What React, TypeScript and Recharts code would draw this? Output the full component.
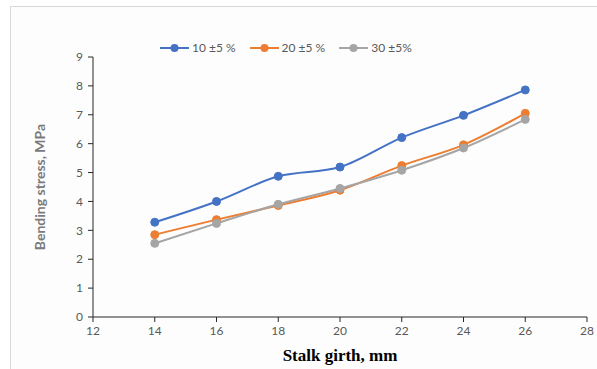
import { LineChart, Line, XAxis, YAxis } from 'recharts'

const girth = [14, 16, 18, 20, 22, 24, 26]
const stress10 = [3.28, 4.0, 4.87, 5.19, 6.21, 6.98, 7.86]
const stress20 = [2.85, 3.37, 3.86, 4.39, 5.24, 5.96, 7.05]
const stress30 = [2.55, 3.24, 3.9, 4.45, 5.08, 5.85, 6.84]

const xTicks = [12, 14, 16, 18, 20, 22, 24, 26, 28]
const yTicks = [0, 1, 2, 3, 4, 5, 6, 7, 8, 9]

const series = [
  { key: 's10', name: '10 ±5 %', color: '#4472C4' },
  { key: 's20', name: '20 ±5 %', color: '#ED7D31' },
  { key: 's30', name: '30 ±5%', color: '#A5A5A5' },
]

const data = girth.map((g, i) => ({ girth: g, s10: stress10[i], s20: stress20[i], s30: stress30[i] }))

const tickStyle = { fontSize: 12, fill: '#595959', fontFamily: 'Lato, sans-serif' }

function LegendBox() {
  return (
    <div style={{ position: 'absolute', top: 40, left: 160, display: 'flex', fontFamily: 'Lato, sans-serif', fontSize: 12, color: '#595959' }}>
      {series.map((s) => (
        <div key={s.key} style={{ display: 'flex', alignItems: 'center', marginRight: 14 }}>
          <svg width={29} height={10}>
            <line x1={0} y1={5} x2={29} y2={5} stroke={s.color} strokeWidth={2} />
            <circle cx={14.5} cy={5} r={4} fill={s.color} />
          </svg>
          <span style={{ marginLeft: 3 }}>{s.name}</span>
        </div>
      ))}
    </div>
  )
}

export default function App() {
  return (
    <div style={{ position: 'absolute', left: 0, top: 0, width: 597, height: 369, background: '#fff', overflow: 'hidden' }}>
      <div style={{ position: 'absolute', left: 10, top: 6, width: 600, height: 380, border: '1px solid #d9d9d9', background: '#fdfdfd' }} />
      <div style={{ position: 'absolute', left: 0, top: 0 }}>
        <LineChart width={597} height={369} data={data} margin={{ top: 57, right: 10, bottom: 4, left: 10 }}>
          <XAxis
            dataKey="girth"
            type="number"
            domain={[12, 28]}
            ticks={xTicks}
            height={48}
            tick={tickStyle}
            tickSize={5}
            tickMargin={4}
            stroke="#262626"
            label={{ value: 'Stalk girth, mm', position: 'insideBottom', offset: 4, style: { fontFamily: '"Liberation Serif", serif', fontWeight: 'bold', fontSize: 17, fill: '#000' } }}
          />
          <YAxis
            type="number"
            domain={[0, 9]}
            ticks={yTicks}
            width={83}
            tick={tickStyle}
            tickSize={5}
            tickMargin={5}
            stroke="#262626"
            label={{ value: 'Bending stress, MPa', angle: -90, position: 'insideLeft', offset: 30, style: { textAnchor: 'middle', fontFamily: 'Lato, sans-serif', fontWeight: 700, fontSize: 14, fill: '#7a7a7a' } }}
          />
          {series.map((s) => (
            <Line
              key={s.key}
              type="monotone"
              dataKey={s.key}
              name={s.name}
              stroke={s.color}
              strokeWidth={2}
              dot={{ r: 4, fill: s.color, stroke: s.color, strokeWidth: 1 }}
              isAnimationActive={false}
            />
          ))}
        </LineChart>
      </div>
      <LegendBox />
    </div>
  )
}
